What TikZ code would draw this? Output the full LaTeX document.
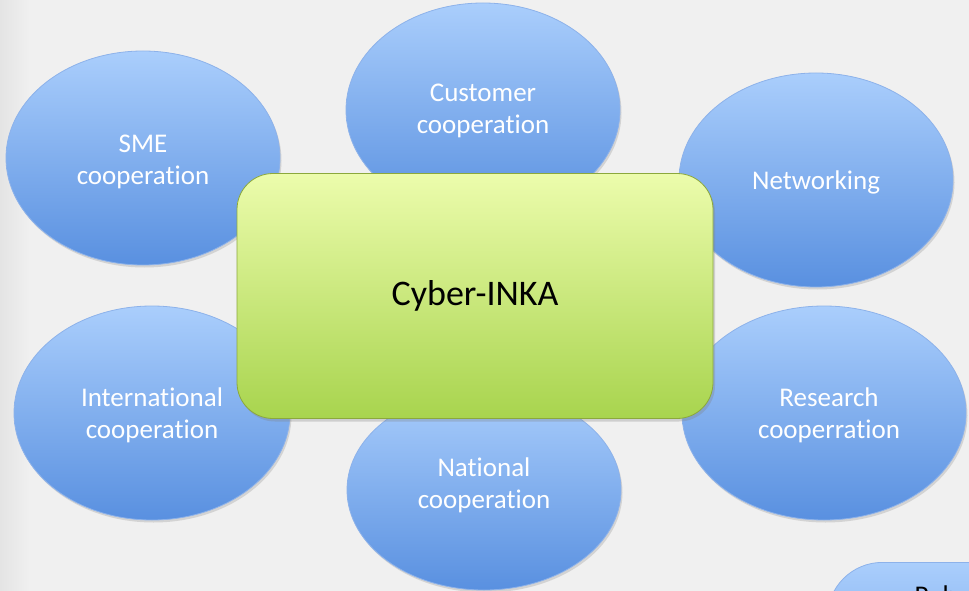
\documentclass[tikz,border=0pt]{standalone}
\usepackage{fontspec}
\setmainfont[Ligatures={NoCommon,TeX}]{Carlito}
\usetikzlibrary{shapes.geometric,shadows}
\definecolor{bgc}{HTML}{F0F0F0}
\definecolor{bgedge}{HTML}{E4E4E4}
\definecolor{bubbletop}{HTML}{AACEFC}
\definecolor{bubblebot}{HTML}{5990E0}
\definecolor{bubbleedge}{HTML}{8DB2EA}
\definecolor{coretop}{HTML}{ECFCAC}
\definecolor{corebot}{HTML}{A8D44E}
\definecolor{coreedge}{HTML}{8CA83C}
\begin{document}
\begin{tikzpicture}[x=1pt,y=-1pt,
  bubble/.style={ellipse, draw=bubbleedge, line width=0.8pt,
    top color=bubbletop, bottom color=bubblebot,
    minimum width=274pt, minimum height=214pt, inner sep=0pt,
    drop shadow={opacity=0.25, shadow xshift=1.5pt, shadow yshift=-2.5pt}},
  bubbletext/.style={text=white, align=center, inner sep=0pt,
    font=\fontsize{27}{32}\selectfont},
  core/.style={rectangle, rounded corners=36pt, draw=coreedge, line width=0.8pt,
    top color=coretop, bottom color=corebot,
    minimum width=476pt, minimum height=245pt, inner sep=0pt,
    text=black, font=\fontsize{36}{40}\selectfont,
    drop shadow={opacity=0.3, shadow xshift=2pt, shadow yshift=-3pt}}]
\useasboundingbox (0,0) rectangle (969,591);
\clip (0,0) rectangle (969,591);
% backdrop
\shade[left color=bgedge, right color=bgc, middle color=bgc] (0,0) rectangle (60,591);
\fill[bgc] (60,0) rectangle (969,591);

% surrounding topics
\node[bubble] (sme) at (143,158) {};
\node[bubble] (cust) at (483,110) {};
\node[bubble] (net) at (816,180) {};
\node[bubble, minimum width=276pt] (intl) at (152,413) {};
\node[bubble, minimum width=284pt] (res) at (824,413) {};
\node[bubble, minimum width=274pt, minimum height=200pt] (nat) at (484,490) {};

\node[bubbletext] (smet) at (143,162) {SME\\cooperation};
\node[bubbletext] (custt) at (483,111) {Customer\\cooperation};
\node[bubbletext] (nett) at (816,182) {Networking};
\node[bubbletext] (intlt) at (152,415) {International\\cooperation};
\node[bubbletext] (rest) at (829,415) {Research\\cooperration};
\node[bubbletext] (natt) at (484,485) {National\\cooperation};

% partly visible box in the corner
\node[rectangle, rounded corners=55pt, draw=bubbleedge, line width=0.8pt,
  top color=bubbletop, bottom color=bubblebot!60!bubbletop,
  minimum width=300pt, minimum height=120pt, inner sep=0pt,
  anchor=north west] (pub) at (827,562) {};
\node[anchor=base west, font=\fontsize{27}{32}\selectfont, text=black] (publabel) at (911,604) {Pub};

% central project
\node[core] (inka) at (475,296) {Cyber-INKA};
\end{tikzpicture}
\end{document}
